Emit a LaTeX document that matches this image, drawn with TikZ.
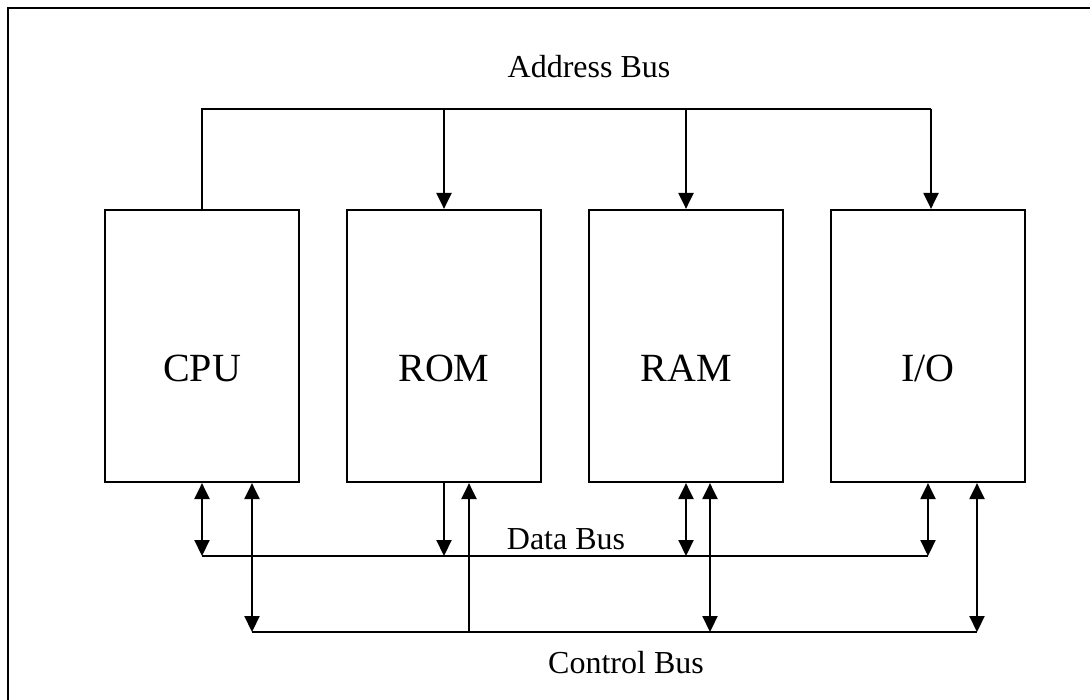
\documentclass[tikz,border=0pt]{standalone}
\usepackage{fontspec}
\setmainfont{Liberation Serif}
\usetikzlibrary{arrows.meta}

\begin{document}
\begin{tikzpicture}[x=1pt,y=-1pt,
	unit/.style={draw,line width=2.2pt,minimum width=194pt,minimum height=272pt,inner sep=0pt},
	unitname/.style={anchor=base,font=\fontsize{40}{44}\selectfont},
	busname/.style={anchor=base,font=\fontsize{32}{36}\selectfont},
	bus/.style={line width=2.2pt},
	oneway/.style={line width=2.2pt,-{Triangle[length=16pt,width=15pt]}},
	twoway/.style={line width=2.2pt,{Triangle[length=16pt,width=15pt]}-{Triangle[length=16pt,width=15pt]}}]
	\clip (0,0) rectangle (1090,700);
	\draw[line width=2.6pt] (8,8) rectangle (1110,720);
	% the four units
	\node[unit] (cpu) at (202,346) {};
	\node[unit] (rom) at (444,346) {};
	\node[unit] (ram) at (686,346) {};
	\node[unit] (io) at (928,346) {};
	\node[unitname] (cpulbl) at (202,382) {CPU};
	\node[unitname] (romlbl) at (444,382) {ROM};
	\node[unitname] (ramlbl) at (686,382) {RAM};
	\node[unitname] (iolbl) at (928,382) {I/O};
	% bus levels
	\coordinate (abus) at (0,109);
	\coordinate (dbus) at (0,556);
	\coordinate (cbus) at (0,632);
	% address bus
	\draw[bus] (cpu.north) -- (cpu.north |- abus) -- ([xshift=3pt]io.north |- abus);
	\draw[oneway] (rom.north |- abus) -- (rom.north);
	\draw[oneway] (ram.north |- abus) -- (ram.north);
	\draw[oneway] ([xshift=3pt]io.north |- abus) -- ([xshift=3pt]io.north);
	\node[busname] (alabel) at (589,78) {Address Bus};
	% data bus
	\draw[bus] (cpu.south |- dbus) -- (io.south |- dbus);
	\draw[twoway] (cpu.south) -- (cpu.south |- dbus);
	\draw[oneway] (rom.south) -- (rom.south |- dbus);
	\draw[twoway] (ram.south) -- (ram.south |- dbus);
	\draw[twoway] (io.south) -- (io.south |- dbus);
	\node[busname] (dlabel) at (566,549) {Data Bus};
	% control bus
	\draw[bus] ([xshift=50pt]cpu.south |- cbus) -- ([xshift=49pt]io.south |- cbus);
	\draw[twoway] ([xshift=50pt]cpu.south) -- ([xshift=50pt]cpu.south |- cbus);
	\draw[oneway] ([xshift=25pt]rom.south |- cbus) -- ([xshift=25pt]rom.south);
	\draw[twoway] ([xshift=24pt]ram.south) -- ([xshift=24pt]ram.south |- cbus);
	\draw[twoway] ([xshift=49pt]io.south) -- ([xshift=49pt]io.south |- cbus);
	\node[busname] (clabel) at (626,673) {Control Bus};
\end{tikzpicture}
\end{document}
